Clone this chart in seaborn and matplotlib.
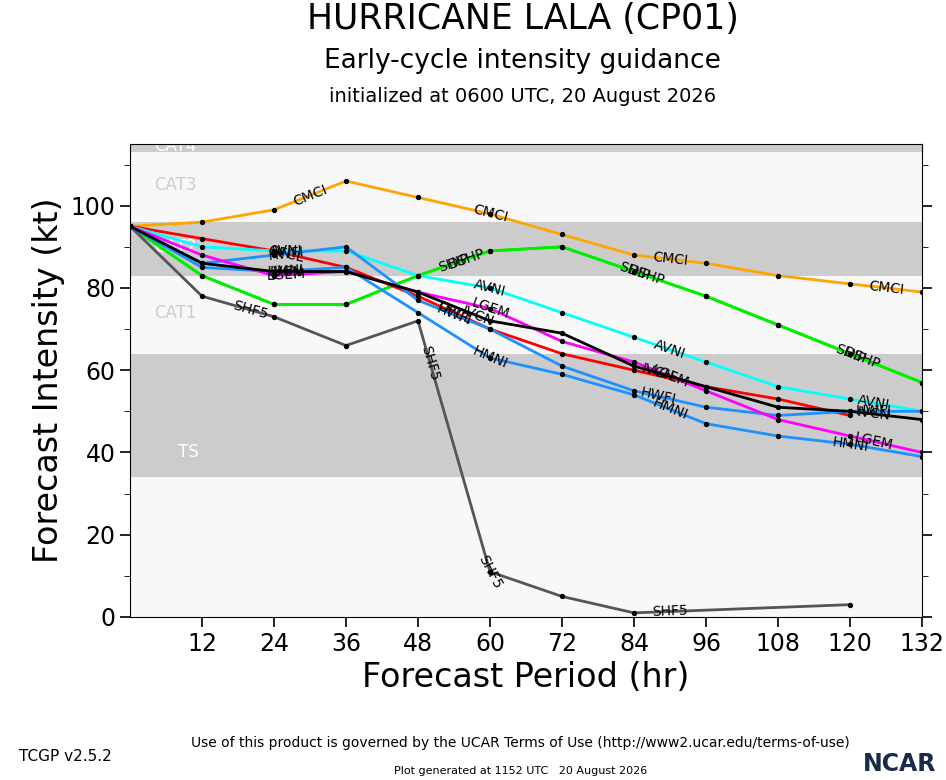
import numpy as np
import matplotlib
matplotlib.use("Agg")
import matplotlib.pyplot as plt
import seaborn as sns
import pandas as pd

hours = [0, 12, 24, 36, 48, 60, 72, 84, 96, 108, 120, 132]
series = {
    "CMCI": [95, 96, 99, 106, 102, 98, 93, 88, 86, 83, 81, 79],
    "SHIP": [95, 83, 76, 76, 83, 89, 90, 84, 78, 71, 64, 57],
    "DSHP": [95, 83, 76, 76, 83, 89, 90, 84, 78, 71, 64, 57],
    "SHF5": [95, 78, 73, 66, 72, 11, 5, 1, np.nan, np.nan, 3, np.nan],
    "OFCL": [95, 92, 89, 85, 78, 70, 64, 60, 56, 53, 49, np.nan],
    "AVNI": [95, 90, 89, 89, 83, 80, 74, 68, 62, 56, 53, 50],
    "HWFI": [95, 86, 88, 90, 77, 70, 61, 55, 51, 49, 50, 50],
    "HMNI": [95, 85, 84, 85, 74, 63, 59, 54, 47, 44, 42, 39],
    "LGEM": [95, 88, 83, 84, 79, 75, 67, 62, 55, 48, 44, 40],
    "IVCN": [95, 86, 84, 84, 79, 72, 69, 61, 56, 51, 50, 48],
}
colors = {"CMCI": "#ffa500", "SHIP": "#00ee00", "DSHP": "#00ee00", "SHF5": "#555555",
          "OFCL": "#ff0000", "AVNI": "#00ffff", "HWFI": "#1e90ff", "HMNI": "#1e90ff",
          "LGEM": "#ff00ff", "IVCN": "#000000"}
label_hours = {"CMCI": [30, 60, 90, 126], "SHIP": [54, 84, 120], "DSHP": [56, 86, 122],
               "SHF5": [20, 50, 60, 90], "OFCL": [26, 54], "AVNI": [26, 60, 90, 124],
               "HWFI": [26, 54, 88, 124], "HMNI": [26, 60, 90, 120], "LGEM": [26, 60, 90, 124],
               "IVCN": [26, 58, 88, 124]}

rows = []
for name, vals in series.items():
    for h, v in zip(hours, vals):
        if not np.isnan(v):
            rows.append({"hour": h, "kt": v, "model": name})
df = pd.DataFrame(rows)

sns.set_style("white")
plt.rcParams.update({"text.color": "black", "axes.labelcolor": "black",
                     "xtick.color": "black", "ytick.color": "black"})
fig = plt.figure(figsize=(9.46, 7.8), dpi=100)
ax = fig.add_axes([130/946, (780-617)/780, (922-130)/946, (617-144)/780])
ax.set_facecolor("#f8f8f8")
ax.set_xlim(0, 132)
ax.set_ylim(0, 115)
bands = [(34, 64, "TS", 40, 8), (64, 83, "CAT1", 74, 4), (83, 96, "CAT2", 90, 4),
         (96, 113, "CAT3", 105, 4), (113, 137, "CAT4", 114.5, 4)]
for i, (lo, hi, name, ty, tx) in enumerate(bands):
    ax.axhspan(lo, hi, color="#cccccc" if i % 2 == 0 else "#f8f8f8", zorder=0, lw=0)
    ax.text(tx, ty, name, color="white" if i % 2 == 0 else "#cccccc",
            fontsize=12, va="center", ha="left", zorder=1, clip_on=True)

sns.lineplot(data=df, x="hour", y="kt", hue="model", palette=colors, ax=ax,
             legend=False, lw=2, zorder=3, estimator=None)
ax.scatter(df["hour"], df["kt"], s=8, color="black", zorder=4)

fig.canvas.draw()
for name, vals in series.items():
    v = np.array(vals, dtype=float)
    h = np.array(hours, dtype=float)
    m = ~np.isnan(v)
    for lh in label_hours[name]:
        y = np.interp(lh, h[m], v[m])
        p1 = ax.transData.transform((lh - 2, np.interp(lh - 2, h[m], v[m])))
        p2 = ax.transData.transform((lh + 2, np.interp(lh + 2, h[m], v[m])))
        ang = np.degrees(np.arctan2(p2[1] - p1[1], p2[0] - p1[0]))
        ax.text(lh, y, name, rotation=ang, rotation_mode="anchor", ha="center", va="center",
                fontsize=10, zorder=5, clip_on=True, color="black")

ax.set_xticks([12, 24, 36, 48, 60, 72, 84, 96, 108, 120, 132])
ax.set_yticks([0, 20, 40, 60, 80, 100])
ax.set_yticks([10, 30, 50, 70, 90, 110], minor=True)
ax.tick_params(axis="both", labelsize=17, direction="out", length=7, width=1.2, bottom=True, left=True)
ax.tick_params(axis="y", which="minor", length=4, left=True)
ax.tick_params(axis="y", right=True, labelright=False, which="both")
for s in ax.spines.values():
    s.set_color("black")
ax.set_xlabel("Forecast Period (hr)", fontsize=24)
ax.set_ylabel("Forecast Intensity (kt)", fontsize=24)

fig.text(0.553, 0.975, "HURRICANE LALA (CP01)", ha="center", va="center", fontsize=25)
fig.text(0.552, 0.922, "Early-cycle intensity guidance", ha="center", va="center", fontsize=19)
fig.text(0.552, 0.876, "initialized at 0600 UTC, 20 August 2026", ha="center", va="center", fontsize=14)
fig.text(0.55, 0.047, "Use of this product is governed by the UCAR Terms of Use (http://www2.ucar.edu/terms-of-use)",
         ha="center", va="center", fontsize=10)
fig.text(0.55, 0.012, "Plot generated at 1152 UTC   20 August 2026", ha="center", va="center", fontsize=8)
fig.text(0.02, 0.03, "TCGP v2.5.2", ha="left", va="center", fontsize=11)
fig.text(0.99, 0.02, "NCAR", ha="right", va="center", fontsize=17, fontweight="bold", color="#1a2a4a")
fig.savefig("out.png", dpi=100)
